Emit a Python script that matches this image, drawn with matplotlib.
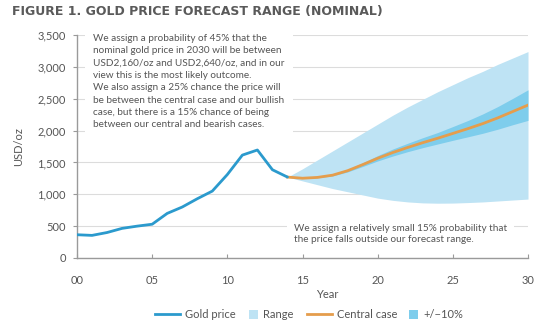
import matplotlib
matplotlib.use("Agg")
import matplotlib.pyplot as plt
from matplotlib.lines import Line2D
from matplotlib.patches import Rectangle

# ---- data ----
hist_years = [0, 1, 2, 3, 4, 5, 6, 7, 8, 9, 10, 11, 12, 13, 14]
gold_price = [365, 355, 400, 465, 500, 530, 700, 800, 930, 1050, 1310, 1615, 1695, 1385, 1270]

fc_years = [14, 15, 16, 17, 18, 19, 20, 21, 22, 23, 24, 25, 26, 27, 28, 29, 30]
central = [1270, 1252, 1265, 1300, 1370, 1465, 1565, 1655, 1735, 1810, 1880, 1955, 2030, 2110, 2200, 2300, 2400]
range_hi = [1270, 1400, 1540, 1680, 1820, 1960, 2100, 2240, 2370, 2490, 2610, 2720, 2830, 2930, 3040, 3140, 3240]
range_lo = [1270, 1210, 1150, 1090, 1040, 990, 940, 905, 880, 865, 860, 862, 870, 880, 895, 910, 925]
band_hi = [1270, 1255, 1271, 1312, 1389, 1494, 1607, 1710, 1801, 1888, 1970, 2063, 2158, 2262, 2378, 2507, 2640]
band_lo = [1270, 1249, 1259, 1288, 1351, 1436, 1523, 1600, 1669, 1732, 1790, 1847, 1902, 1958, 2022, 2093, 2160]

x_ticks = [0, 5, 10, 15, 20, 25, 30]
x_ticklabels = ["00", "05", "10", "15", "20", "25", "30"]
y_ticks = [0, 500, 1000, 1500, 2000, 2500, 3000, 3500]
y_ticklabels = ["0", "500", "1,000", "1,500", "2,000", "2,500", "3,000", "3,500"]

title = "FIGURE 1. GOLD PRICE FORECAST RANGE (NOMINAL)"
note_top = ("We assign a probability of 45% that the\n"
            "nominal gold price in 2030 will be between\n"
            "USD2,160/oz and USD2,640/oz, and in our\n"
            "view this is the most likely outcome.\n"
            "We also assign a 25% chance the price will\n"
            "be between the central case and our bullish\n"
            "case, but there is a 15% chance of being\n"
            "between our central and bearish cases.")
note_bottom = ("We assign a relatively small 15% probability that\n"
               "the price falls outside our forecast range.")
legend_labels = ["Gold price", "Range", "Central case", "+/\u221210%"]

# ---- style ----
C_GOLD = "#2b9acd"
C_RANGE = "#bee3f4"
C_BAND = "#7ecdec"
C_CENTRAL = "#e59d4c"
C_TEXT = "#555555"
C_AXIS = "#9a9a9a"
C_GRID = "#dcdcdc"
FONT = ["Lato", "DejaVu Sans"]

plt.rcParams["font.family"] = FONT

W, H = 550, 326
fig = plt.figure(figsize=(W / 100, H / 100), dpi=100)
ax = fig.add_axes([77 / W, 1 - 258 / H, (528 - 77) / W, (258 - 35) / H])

ax.fill_between(fc_years, range_lo, range_hi, color=C_RANGE, lw=0, zorder=2)
ax.fill_between(fc_years, band_lo, band_hi, color=C_BAND, lw=0, zorder=3)
ax.plot(hist_years, gold_price, color=C_GOLD, lw=2, zorder=5, solid_capstyle="round")
ax.plot(fc_years, central, color=C_CENTRAL, lw=2, zorder=4)

ax.set_xlim(0, 30)
ax.set_ylim(0, 3500)
ax.set_xticks(x_ticks)
ax.set_xticklabels(x_ticklabels)
ax.set_yticks(y_ticks)
ax.set_yticklabels(y_ticklabels)
ax.tick_params(axis="x", direction="in", length=3, color=C_AXIS, labelcolor=C_TEXT,
               labelsize=8, pad=12)
ax.tick_params(axis="y", direction="out", length=3, color=C_AXIS, labelcolor=C_TEXT,
               labelsize=8, pad=5)
ax.grid(axis="y", color=C_GRID, lw=0.8, zorder=0)
ax.set_axisbelow(True)
for s in ["top", "right"]:
    ax.spines[s].set_visible(False)
for s in ["left", "bottom"]:
    ax.spines[s].set_color(C_AXIS)
    ax.spines[s].set_linewidth(1)

ax.set_ylabel("USD/oz", color=C_TEXT, fontsize=8)
ax.yaxis.set_label_coords(-0.118, 0.5)
ax.set_xlabel("Year", color=C_TEXT, fontsize=8)
ax.xaxis.set_label_coords(0.555, -0.14)

ax.text(1.06, 3500 + 20, note_top, ha="left", va="top", fontsize=7.2, color=C_TEXT,
        linespacing=1.48, zorder=1,
        bbox=dict(facecolor="white", edgecolor="none", pad=6))
ax.text(14.45, 540, note_bottom, ha="left", va="top", fontsize=7.2, color=C_TEXT,
        linespacing=1.4, zorder=1,
        bbox=dict(facecolor="white", edgecolor="none", pad=5))

fig.text(12 / W, 1 - 12 / H, title, ha="left", va="center", fontsize=9,
         fontweight="bold", color="#5a5a5a", family=["DejaVu Sans"])

# ---- legend (manual, to match square swatches and spacing) ----
ly = 1 - 314 / H
items = [("line", C_GOLD, 155, 185), ("patch", C_RANGE, 249, 263),
         ("line", C_CENTRAL, 307, 337), ("patch", C_BAND, 409, 423)]
for (kind, col, x0, xt), lab in zip(items, legend_labels):
    if kind == "line":
        fig.add_artist(Line2D([x0 / W, (x0 + 25) / W], [ly, ly], color=col, lw=2,
                              transform=fig.transFigure))
    else:
        fig.add_artist(Rectangle((x0 / W, ly - 4.5 / H), 9 / W, 9 / H, facecolor=col,
                                 edgecolor="none", transform=fig.transFigure))
    fig.text(xt / W, ly, lab, ha="left", va="center", fontsize=8, color=C_TEXT)

fig.savefig("out.png", dpi=100)
